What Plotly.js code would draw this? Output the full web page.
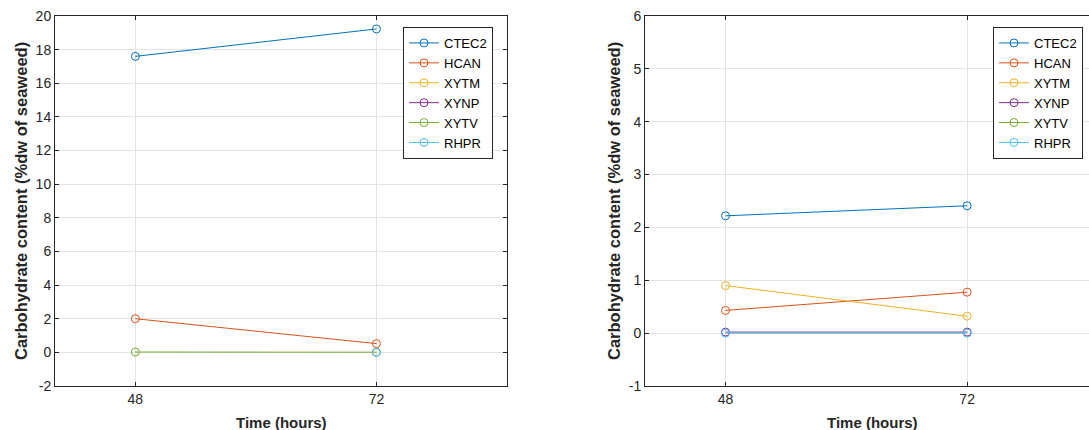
<!DOCTYPE html>
<html>
<head>
<meta charset="utf-8">
<script src="https://cdn.plot.ly/plotly-3.0.1.min.js"></script>
<style>html,body{margin:0;padding:0;background:#fff;}#chart{width:1089px;height:430px;}</style>
</head>
<body>
<div id="chart"></div>
<script>
const hours = [48, 72];
const hourLabels = ["48", "72"];
const seriesNames = ["CTEC2", "HCAN", "XYTM", "XYNP", "XYTV", "RHPR"];
const colors = ["#0072BD", "#D95319", "#EDB120", "#7E2F8E", "#77AC30", "#4DBEEE"];

// Left panel values (%dw of seaweed); series hidden under others are left empty
const leftCTEC2 = [17.6, 19.23];
const leftHCAN  = [2.0, 0.52];
const leftXYTM  = [null, null];
const leftXYNP  = [null, null];
const leftXYTV  = [0.02, 0.01];
const leftRHPR  = [null, 0];

// Right panel values (%dw of seaweed)
const rightCTEC2 = [2.22, 2.41];
const rightHCAN  = [0.43, 0.775];
const rightXYTM  = [0.90, 0.32];
const rightXYNP  = [0.02, 0.02];
const rightXYTV  = [null, null];
const rightRHPR  = [0, 0];

// Tick labels
const leftYTicks = [-2, 0, 2, 4, 6, 8, 10, 12, 14, 16, 18, 20];
const leftYLabels = ["-2", "0", "2", "4", "6", "8", "10", "12", "14", "16", "18", "20"];
const rightYTicks = [-1, 0, 1, 2, 3, 4, 5, 6];
const rightYLabels = ["-1", "0", "1", "2", "3", "4", "5", "6"];

const leftData = [leftCTEC2, leftHCAN, leftXYTM, leftXYNP, leftXYTV, leftRHPR];
const rightData = [rightCTEC2, rightHCAN, rightXYTM, rightXYNP, rightXYTV, rightRHPR];

const W = 1089, H = 430;
const font = "Liberation Sans, Arial, Helvetica, sans-serif";
const txt = "#262626";
const traces = [];
function mk(v, i, xa, ya, lg) {
  return {
    x: hours, y: v, name: seriesNames[i], type: "scatter", mode: "lines+markers",
    xaxis: xa, yaxis: ya, legend: lg,
    line: {color: colors[i], width: 1},
    marker: {symbol: "circle-open", size: 8, color: colors[i], line: {width: 1, color: colors[i]}}
  };
}
leftData.forEach((v, i) => traces.push(mk(v, i, "x", "y", "legend")));
rightData.forEach((v, i) => traces.push(mk(v, i, "x2", "y2", "legend2")));

const yTop = 1 - 16/H, yBot = 1 - 386/H;
const common = {
  showline: true, linecolor: txt, linewidth: 1, ticks: "inside", ticklen: 4,
  tickcolor: txt, showgrid: true, gridcolor: "#e3e3e3", gridwidth: 1,
  zeroline: false, tickfont: {family: font, size: 14, color: txt}
};
const legendStyle = {yanchor: "top", xanchor: "left", bgcolor: "#fff", bordercolor: txt, borderwidth: 1,
  font: {family: font, size: 13, color: "#000"}, tracegroupgap: 0};
const layout = {
  width: W, height: H, margin: {l: 0, r: 0, t: 0, b: 0},
  paper_bgcolor: "#fff", plot_bgcolor: "#fff", showlegend: true,
  xaxis: Object.assign({}, common, {domain: [55/W, 507/W], range: [40, 85], tickvals: hours, ticktext: hourLabels, mirror: "ticks", anchor: "y"}),
  yaxis: Object.assign({}, common, {domain: [yBot, yTop], range: [-2, 20], tickvals: leftYTicks, ticktext: leftYLabels, mirror: "ticks", anchor: "x"}),
  xaxis2: Object.assign({}, common, {domain: [645/W, 1], range: [40, 40 + (W - 645) / ((1098 - 645) / 45)], tickvals: hours, ticktext: hourLabels, mirror: "ticks", anchor: "y2"}),
  yaxis2: Object.assign({}, common, {domain: [yBot, yTop], range: [-1, 6], tickvals: rightYTicks, ticktext: rightYLabels, mirror: false, anchor: "x2"}),
  legend: Object.assign({x: 403/W, y: 1 - 27/H}, legendStyle),
  legend2: Object.assign({x: 993/W, y: 1 - 27/H}, legendStyle),
  annotations: [
    {text: "<b>Time (hours)</b>", xref: "paper", yref: "paper", x: 281/W, y: 1 - 422/H, xanchor: "center", yanchor: "middle", showarrow: false, font: {family: font, size: 15, color: txt}},
    {text: "<b>Time (hours)</b>", xref: "paper", yref: "paper", x: 872/W, y: 1 - 422/H, xanchor: "center", yanchor: "middle", showarrow: false, font: {family: font, size: 15, color: txt}},
    {text: "<b>Carbohydrate content (%dw of seaweed)</b>", xref: "paper", yref: "paper", x: 21/W, y: 1 - 201/H, xanchor: "center", yanchor: "middle", textangle: -90, showarrow: false, font: {family: font, size: 16.5, color: txt}},
    {text: "<b>Carbohydrate content (%dw of seaweed)</b>", xref: "paper", yref: "paper", x: 614/W, y: 1 - 201/H, xanchor: "center", yanchor: "middle", textangle: -90, showarrow: false, font: {family: font, size: 16.5, color: txt}}
  ]
};
Plotly.newPlot("chart", traces, layout, {staticPlot: true, displayModeBar: false});
</script>
</body>
</html>
